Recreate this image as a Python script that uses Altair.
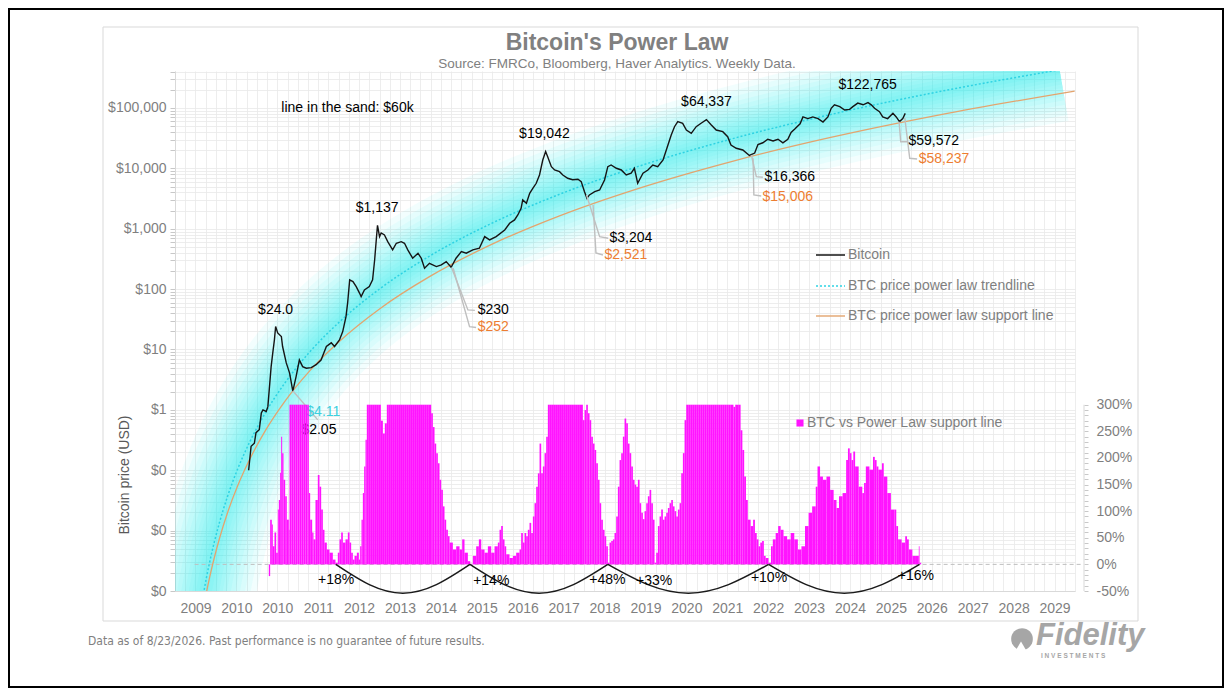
import altair as alt
import pandas as pd

FONT = "Liberation Sans"
NARROW = "Liberation Sans Narrow, DejaVu Sans Condensed, Arial Narrow, Liberation Sans"
GREY = "#7F7F7F"
CYAN = "#2ED3E3"
GLOW = "#00E3F0"
ORANGE_LINE = "#E3A46E"
ORANGE_TXT = "#ED7D31"
MAGENTA = "#FF14FF"

# ---------------- data ----------------
XLABELS = ["2009", "2010", "2010"] + [str(y) for y in range(2011, 2030)]

BTC = [
    (2010.70, 0.10), (2010.76, 0.25), (2010.84, 0.28), (2010.88, 0.42), (2010.96, 0.47),
    (2011.01, 0.89), (2011.05, 1.0), (2011.13, 0.94), (2011.17, 1.13), (2011.21, 2.43),
    (2011.25, 5.2), (2011.29, 8.8), (2011.33, 14.4), (2011.36, 24.0), (2011.41, 18.8),
    (2011.50, 16.4), (2011.53, 11.2), (2011.62, 6.0), (2011.70, 4.1), (2011.78, 2.05),
    (2011.86, 3.56), (2011.94, 6.7), (2012.02, 5.2), (2012.11, 4.9), (2012.23, 5.0),
    (2012.35, 5.6), (2012.47, 6.7), (2012.60, 11.2), (2012.72, 12.9), (2012.80, 11.2),
    (2012.92, 14.4), (2013.00, 19.8), (2013.08, 35), (2013.12, 59), (2013.17, 142),
    (2013.25, 133), (2013.33, 110), (2013.41, 86), (2013.45, 75), (2013.53, 97),
    (2013.65, 110), (2013.73, 142), (2013.78, 304), (2013.82, 653), (2013.85, 1137),
    (2013.90, 740), (2013.94, 851), (2014.02, 789), (2014.10, 611), (2014.22, 446),
    (2014.31, 575), (2014.43, 611), (2014.51, 575), (2014.59, 446), (2014.71, 325),
    (2014.84, 393), (2014.92, 325), (2015.00, 222), (2015.12, 268), (2015.29, 236),
    (2015.41, 252), (2015.53, 285), (2015.65, 230), (2015.77, 325), (2015.90, 418),
    (2016.02, 393), (2016.18, 446), (2016.34, 475), (2016.47, 740), (2016.59, 653),
    (2016.75, 740), (2016.96, 955), (2017.08, 1233), (2017.20, 1400), (2017.28, 1691),
    (2017.36, 2183), (2017.40, 3000), (2017.49, 2642), (2017.57, 3873), (2017.65, 4688),
    (2017.73, 5666), (2017.81, 7776), (2017.89, 13772), (2017.96, 19042), (2018.01, 15631),
    (2018.10, 10666), (2018.18, 9410), (2018.30, 8817), (2018.38, 7776), (2018.50, 6853),
    (2018.62, 6500), (2018.75, 6600), (2018.83, 6026), (2018.91, 4113), (2018.97, 3204),
    (2019.03, 3630), (2019.16, 4113), (2019.28, 4387), (2019.40, 6427), (2019.48, 10666),
    (2019.56, 11383), (2019.69, 10040), (2019.81, 9410), (2019.93, 7776), (2020.05, 8300),
    (2020.13, 10040), (2020.21, 5666), (2020.34, 8300), (2020.46, 9410), (2020.58, 11383),
    (2020.70, 10666), (2020.83, 13772), (2020.91, 20170), (2021.03, 35730), (2021.11, 49000),
    (2021.19, 59300), (2021.31, 55800), (2021.40, 43200), (2021.52, 38100), (2021.64, 49000),
    (2021.76, 55800), (2021.89, 64337), (2022.01, 52300), (2022.13, 43200), (2022.29, 40500),
    (2022.41, 33500), (2022.49, 24400), (2022.62, 21500), (2022.78, 20170), (2022.94, 16366),
    (2023.07, 17920), (2023.15, 24870), (2023.27, 26550), (2023.39, 30330), (2023.52, 28430),
    (2023.64, 30330), (2023.76, 26550), (2023.88, 30330), (2023.96, 39450), (2024.05, 44900),
    (2024.18, 54700), (2024.25, 71200), (2024.37, 66800), (2024.49, 71200), (2024.62, 66800),
    (2024.74, 58400), (2024.86, 71200), (2024.94, 98900), (2025.02, 113000), (2025.15, 105400),
    (2025.27, 92700), (2025.39, 95000), (2025.47, 105400), (2025.59, 120500), (2025.72, 113000),
    (2025.84, 122765), (2025.92, 113000), (2026.00, 98900), (2026.12, 86900), (2026.20, 71200),
    (2026.32, 66800), (2026.45, 81500), (2026.53, 71200), (2026.61, 59572), (2026.69, 66800),
    (2026.75, 81500),
]

TREND = [
    (2009.547, 0.00057), (2009.608, 0.001), (2009.742, 0.0029), (2009.865, 0.00662),
    (2009.987, 0.0136), (2010.182, 0.0365), (2010.427, 0.103), (2010.720, 0.288),
    (2011.087, 0.845), (2011.576, 2.73), (2012.187, 8.99), (2012.921, 28.7),
    (2013.899, 100.5), (2015.121, 352), (2016.588, 1183), (2018.300, 3724),
    (2020.256, 10940), (2022.456, 30060), (2024.901, 77270), (2027.591, 187100),
    (2030.525, 429500),
]

SUPPORT = [
    (2009.620, 0.00063), (2009.676, 0.001), (2009.742, 0.00163), (2009.865, 0.00366),
    (2009.987, 0.0074), (2010.182, 0.0196), (2010.427, 0.0541), (2010.720, 0.149),
    (2011.087, 0.429), (2011.576, 1.36), (2012.187, 4.39), (2012.921, 13.7),
    (2013.899, 47.0), (2015.121, 161), (2016.588, 530), (2018.300, 1637),
    (2020.256, 4721), (2022.456, 12740), (2024.901, 32210), (2027.591, 76910),
    (2030.892, 190900),
]

BARS_2011 = [
    (2011.193, -22), (2011.226, 84), (2011.267, 75), (2011.291, 34), (2011.332, 60),
    (2011.373, 22), (2011.413, 103), (2011.438, 121), (2011.470, 172), (2011.495, 240),
    (2011.519, 209), (2011.552, 159), (2011.593, 128), (2011.633, 84), (2011.682, 65),
    (2011.699, 300), (2011.747, 300), (2011.796, 300), (2011.845, 300), (2011.894, 300),
    (2011.943, 300), (2011.992, 300), (2012.041, 300), (2012.090, 300), (2012.139, 300),
    (2012.171, 134), (2012.204, 84), (2012.253, 60), (2012.285, 47), (2012.334, 121),
    (2012.391, 168), (2012.432, 146), (2012.473, 103), (2012.514, 65), (2012.554, 41),
    (2012.611, 28), (2012.677, 22), (2012.758, 9), (2012.823, 3),
]
BARS_2014 = [
    (2012.880, 22), (2012.921, 47), (2012.962, 60), (2013.003, 41), (2013.068, 47),
    (2013.125, 60), (2013.166, 41), (2013.206, 22), (2013.247, 9), (2013.288, 16),
    (2013.345, 22), (2013.394, 9), (2013.426, 34), (2013.459, 84), (2013.492, 134),
    (2013.524, 184), (2013.557, 234), (2013.589, 300), (2013.638, 300), (2013.687, 300),
    (2013.736, 300), (2013.785, 300), (2013.834, 300), (2013.883, 300), (2013.932, 270),
    (2013.981, 246), (2014.029, 265), (2014.078, 300), (2014.127, 300), (2014.176, 300),
    (2014.225, 300), (2014.274, 300), (2014.323, 300), (2014.372, 300), (2014.421, 300),
    (2014.470, 300), (2014.518, 300), (2014.567, 300), (2014.616, 300), (2014.665, 300),
    (2014.714, 300), (2014.763, 300), (2014.812, 300), (2014.861, 300), (2014.910, 300),
    (2014.959, 300), (2015.007, 300), (2015.056, 300), (2015.105, 300), (2015.162, 284),
    (2015.203, 258), (2015.244, 227), (2015.285, 209), (2015.325, 190), (2015.366, 159),
    (2015.407, 140), (2015.448, 109), (2015.488, 84), (2015.529, 65), (2015.570, 53),
    (2015.611, 41), (2015.692, 28), (2015.774, 34), (2015.855, 28), (2015.920, 47),
    (2015.977, 22), (2016.059, 6), (2016.116, 1),
]
BARS_2018 = [
    (2016.181, 16), (2016.263, 34), (2016.328, 47), (2016.385, 28), (2016.466, 22),
    (2016.548, 34), (2016.629, 22), (2016.711, 34), (2016.792, 41), (2016.833, 65),
    (2016.873, 72), (2016.914, 47), (2016.955, 34), (2016.996, 19), (2017.077, 12),
    (2017.159, 16), (2017.240, 22), (2017.322, 28), (2017.362, 59), (2017.403, 41),
    (2017.444, 59), (2017.485, 53), (2017.525, 65), (2017.566, 78), (2017.607, 59),
    (2017.648, 90), (2017.688, 115), (2017.729, 146), (2017.770, 171), (2017.811, 227),
    (2017.851, 171), (2017.892, 184), (2017.933, 209), (2017.974, 240), (2018.014, 300),
    (2018.063, 300), (2018.112, 300), (2018.161, 300), (2018.210, 300), (2018.259, 300),
    (2018.308, 300), (2018.357, 300), (2018.405, 300), (2018.454, 300), (2018.503, 300),
    (2018.552, 300), (2018.601, 300), (2018.650, 300), (2018.699, 300), (2018.748, 300),
    (2018.797, 300), (2018.870, 271), (2018.911, 290), (2018.952, 300), (2018.992, 284),
    (2019.033, 271), (2019.074, 240), (2019.115, 227), (2019.155, 215), (2019.196, 190),
    (2019.237, 159), (2019.278, 115), (2019.318, 84), (2019.359, 65), (2019.400, 53),
    (2019.441, 34), (2019.481, 3),
]
BARS_2021 = [
    (2019.522, 41), (2019.563, 44), (2019.604, 47), (2019.644, 59), (2019.685, 90),
    (2019.726, 146), (2019.767, 196), (2019.807, 209), (2019.848, 240), (2019.889, 274),
    (2019.930, 265), (2019.970, 227), (2020.011, 209), (2020.052, 184), (2020.093, 159),
    (2020.133, 150), (2020.174, 146), (2020.215, 159), (2020.256, 115), (2020.296, 97),
    (2020.337, 85), (2020.378, 100), (2020.419, 115), (2020.459, 128), (2020.500, 140),
    (2020.541, 115), (2020.582, 84), (2020.622, 3), (2020.663, 22), (2020.704, 72),
    (2020.745, 90), (2020.785, 103), (2020.826, 84), (2020.867, 90), (2020.908, 97),
    (2020.948, 106), (2020.989, 115), (2021.030, 121), (2021.071, 109), (2021.111, 100),
    (2021.152, 90), (2021.193, 103), (2021.234, 115), (2021.275, 171), (2021.315, 209),
    (2021.356, 271), (2021.397, 300), (2021.445, 300), (2021.494, 300), (2021.543, 300),
    (2021.592, 300), (2021.641, 300), (2021.690, 300), (2021.739, 300), (2021.788, 300),
    (2021.837, 300), (2021.886, 300), (2021.934, 300), (2021.983, 300), (2022.032, 300),
    (2022.081, 300), (2022.130, 300), (2022.179, 300), (2022.228, 300), (2022.277, 300),
    (2022.326, 300), (2022.375, 300), (2022.424, 300), (2022.472, 300), (2022.551, 296),
    (2022.595, 300), (2022.638, 300), (2022.682, 300), (2022.726, 252), (2022.769, 215),
    (2022.813, 165), (2022.857, 121), (2022.901, 84), (2022.971, 72), (2023.032, 84),
    (2023.076, 59), (2023.120, 47), (2023.163, 34), (2023.207, 41), (2023.251, 44),
    (2023.294, 16), (2023.338, 12), (2023.408, 3),
]
BARS_2025 = [
    (2023.469, 34), (2023.513, 47), (2023.583, 59), (2023.644, 72), (2023.705, 65),
    (2023.775, 53), (2023.863, 47), (2023.950, 59), (2024.038, 47), (2024.125, 28),
    (2024.213, 34), (2024.300, 72), (2024.388, 97), (2024.475, 109), (2024.563, 146),
    (2024.606, 184), (2024.668, 165), (2024.738, 159), (2024.825, 165), (2024.913, 140),
    (2025.000, 121), (2025.070, 106), (2025.131, 128), (2025.219, 134), (2025.306, 196),
    (2025.350, 218), (2025.394, 209), (2025.437, 196), (2025.481, 212), (2025.525, 184),
    (2025.612, 146), (2025.700, 134), (2025.744, 153), (2025.787, 184), (2025.875, 178),
    (2025.962, 202), (2026.006, 196), (2026.050, 184), (2026.094, 178), (2026.181, 190),
    (2026.225, 165), (2026.312, 134), (2026.400, 103), (2026.487, 103), (2026.531, 72),
    (2026.575, 47), (2026.662, 41), (2026.750, 53), (2026.793, 47), (2026.837, 28),
    (2026.925, 16), (2027.012, 16), (2027.082, 34), (2027.100, 3),
]

ARC_T = [
    [2012.83, 2013.65, 2014.47, 2015.29, 2016.11],
    [2016.11, 2016.95, 2017.80, 2018.64, 2019.48],
    [2019.48, 2020.46, 2021.45, 2022.43, 2023.41],
    [2023.41, 2024.33, 2025.26, 2026.18, 2027.10],
]
ARC_PCT = [0, -38, -54, -38, 0]

PCT_LABELS = ["+18%", "+14%", "+48%", "+33%", "+10%", "+16%"]
PCT_LAB_T = [2012.84, 2016.63, 2019.47, 2020.61, 2023.42, 2027.01]
PCT_LAB_Y = [-29, -32, -29, -32, -26, -22]

PEAK_LABELS = ["$24.0", "$1,137", "$19,042", "$64,337", "$122,765"]
PEAK_T = [2011.36, 2013.84, 2017.93, 2021.89, 2025.83]
PEAK_Y = [45.3, 2208, 37150, 125700, 240400]

LOW_LABELS = ["$2.05", "$230", "$3,204", "$16,366", "$59,572"]
LOW_T = [2011.99, 2016.30, 2019.52, 2023.31, 2026.83]
LOW_Y = [0.467, 44.4, 697, 7127, 28440]

SUP_LABELS = ["$252", "$2,521", "$15,006", "$58,237"]
SUP_T = [2016.30, 2019.40, 2023.26, 2027.08]
SUP_Y = [23.7, 368, 3396, 14320]

TREND_LABELS = ["$4.11"]
TREND_LAB_T = [2012.11]
TREND_LAB_Y = [0.937]

LEADERS = [
    [(2011.78, 2.07), (2012.39, 0.683)],
    [(2015.66, 228.6), (2016.06, 45.3), (2016.23, 44.4)],
    [(2015.70, 222), (2016.10, 23.9), (2016.26, 23.1)],
    [(2018.96, 3631), (2019.28, 740), (2019.49, 697)],
    [(2019.12, 2477), (2019.19, 397), (2019.36, 368)],
    [(2022.99, 16670), (2023.11, 7290), (2023.27, 7127)],
    [(2023.03, 14690), (2023.05, 3631), (2023.23, 3491)],
    [(2026.60, 59300), (2026.64, 27670), (2026.82, 27670)],
    [(2026.74, 68200), (2026.86, 14690), (2027.04, 14320)],
]

ZERO_LINE = [(2009.38, 2031.10, 0)]
RIGHT_AXIS_SPAN = [(-50, 300)]

# ---------------- frames ----------------
btc = pd.DataFrame(BTC, columns=["t", "p"])
trend = pd.DataFrame(TREND, columns=["t", "p"])
supp = pd.DataFrame(SUPPORT, columns=["t", "p"])
bars = pd.DataFrame(BARS_2011 + BARS_2014 + BARS_2018 + BARS_2021 + BARS_2025,
                    columns=["t", "pct"]).sort_values("t").reset_index(drop=True)
bars["t2"] = bars["t"].shift(-1)
bars.loc[bars.index[-1], "t2"] = bars["t"].iloc[-1] + 0.04
bars["zero"] = 0.0

arcs = pd.DataFrame([{"id": i, "k": j, "t": tt, "pct": ARC_PCT[j]}
                     for i, ts in enumerate(ARC_T) for j, tt in enumerate(ts)])
pct_lab = pd.DataFrame({"t": PCT_LAB_T, "pct": PCT_LAB_Y, "label": PCT_LABELS})
peak_lab = pd.DataFrame({"t": PEAK_T, "p": PEAK_Y, "label": PEAK_LABELS})
low_lab = pd.DataFrame({"t": LOW_T, "p": LOW_Y, "label": LOW_LABELS})
sup_lab = pd.DataFrame({"t": SUP_T, "p": SUP_Y, "label": SUP_LABELS})
tr_lab = pd.DataFrame({"t": TREND_LAB_T, "p": TREND_LAB_Y, "label": TREND_LABELS})
lead = pd.DataFrame([{"id": i, "k": j, "t": tt, "p": pp}
                     for i, seg in enumerate(LEADERS) for j, (tt, pp) in enumerate(seg)])
zero_df = pd.DataFrame(ZERO_LINE, columns=["t", "t2", "pct"])
raxis_df = pd.DataFrame(RIGHT_AXIS_SPAN, columns=["lo", "hi"])
sand_df = pd.DataFrame({"t": [2011.50], "p": [100000], "label": ["line in the sand: $60k"]})
ONE = pd.DataFrame({"a": [0]})

# ---------------- scales & axes ----------------
X_SCALE = alt.Scale(domain=[2008.9, 2030.9], nice=False, zero=False)
Y_PRICE = alt.Scale(type="log", domain=[0.001, 410000], nice=False)
Y_PCT = alt.Scale(domain=[-50, 927], nice=False, zero=False)

x_vals = [round(2009.4 + q * 0.25, 3) for q in range(-2, 87)]
xl_js = "[" + ",".join("'" + s + "'" for s in XLABELS) + "]"
X_AXIS = alt.Axis(
    values=x_vals,
    labelExpr="(round((datum.value-2009.4)*4) % 4 == 0) ? " + xl_js + "[round(datum.value-2009.4)] : ''",
    title=None, grid=True, gridColor="#E8E8E8", gridWidth=0.8, ticks=False, tickSize=0,
    domain=True, domainColor="#D9D9D9", labelColor=GREY, labelFont=FONT, labelFontSize=14,
    labelPadding=10, labelOverlap=False, labelFlush=False, labelBound=False,
)
y_vals = sorted(k * 10.0 ** d for d in range(-3, 6) for k in range(1, 10) if k * 10.0 ** d <= 410000)
Y_AXIS = alt.Axis(
    values=y_vals,
    labelExpr="abs(log(datum.value)/LN10 - round(log(datum.value)/LN10)) < 0.01 ? format(datum.value, '$,.0f') : ''",
    title=None, grid=True, gridColor="#E8E8E8", gridWidth=0.8, tickColor="#C8C8C8", tickSize=5,
    domainColor="#D9D9D9", labelColor=GREY, labelFont=FONT, labelFontSize=14, labelPadding=4,
    labelOverlap=False, labelFlush=False,
)
Y_AXIS_R = alt.Axis(
    orient="right", values=list(range(-50, 301, 10)),
    labelExpr="datum.value % 50 == 0 ? datum.value + '%' : ''",
    title=None, grid=False, domain=False, tickColor="#C8C8C8", tickSize=4, offset=9,
    labelPadding=8, labelColor=GREY, labelFont=FONT, labelFontSize=14, labelOverlap=False,
    labelFlush=False,
)


def X(field="t"):
    return alt.X(field + ":Q", scale=X_SCALE, axis=X_AXIS)


def YP(field="p", axis=None):
    return alt.Y(field + ":Q", scale=Y_PRICE, axis=axis)


def YC(field="pct", axis=None):
    return alt.Y(field + ":Q", scale=Y_PCT, axis=axis)


layers = []

# soft glow around the trend line
widths = [104, 92, 81, 71, 62, 53, 45, 37, 30, 23, 16, 9]
for i, w in enumerate(widths):
    layers.append(
        alt.Chart(trend).mark_line(color=GLOW, strokeWidth=w, strokeOpacity=0.05, clip=True,
                                   interpolate="monotone", strokeCap="butt", strokeJoin="round")
        .encode(x=X(), y=YP(axis=Y_AXIS if i == 0 else None), order="t:Q")
    )

# zero line
layers.append(
    alt.Chart(zero_df).mark_rule(color="#BFBFBF", strokeWidth=1, strokeDash=[4, 3])
    .encode(x=X(), x2="t2:Q", y=YC())
)
# support and trend lines
layers.append(
    alt.Chart(supp).mark_line(color=ORANGE_LINE, strokeWidth=1.3, clip=True, interpolate="monotone")
    .encode(x=X(), y=YP(), order="t:Q")
)
layers.append(
    alt.Chart(trend).mark_line(color=CYAN, strokeWidth=1.5, strokeDash=[2, 2], clip=True,
                               interpolate="monotone")
    .encode(x=X(), y=YP(), order="t:Q")
)
# bitcoin price
layers.append(
    alt.Chart(btc).mark_line(color="#151515", strokeWidth=1.4)
    .encode(x=X(), y=YP(), order="t:Q")
)
# leader lines
layers.append(
    alt.Chart(lead).mark_line(color="#BFBFBF", strokeWidth=1.4)
    .encode(x=X(), y=YP(), detail="id:N", order="k:Q")
)
# annotations
layers.append(
    alt.Chart(peak_lab).mark_text(font=FONT, fontSize=14, color="#000000", align="center", baseline="middle")
    .encode(x=X(), y=YP(), text="label:N")
)
layers.append(
    alt.Chart(low_lab).mark_text(font=FONT, fontSize=14, color="#000000", align="left", baseline="middle")
    .encode(x=X(), y=YP(), text="label:N")
)
layers.append(
    alt.Chart(sup_lab).mark_text(font=FONT, fontSize=14, color=ORANGE_TXT, align="left", baseline="middle")
    .encode(x=X(), y=YP(), text="label:N")
)
layers.append(
    alt.Chart(tr_lab).mark_text(font=FONT, fontSize=14, color="#3CD0DE", align="left", baseline="middle")
    .encode(x=X(), y=YP(), text="label:N")
)
layers.append(
    alt.Chart(sand_df).mark_text(font=FONT, fontSize=14, color="#000000", align="left", baseline="middle")
    .encode(x=X(), y=YP(), text="label:N")
)
# bars vs support line
layers.append(
    alt.Chart(bars).mark_bar(color=MAGENTA)
    .encode(x=X(), x2="t2:Q", y=YC(axis=Y_AXIS_R), y2="zero:Q")
)
# arcs between cycle lows
layers.append(
    alt.Chart(arcs).mark_line(color="#1A1A1A", strokeWidth=1.5, interpolate="natural")
    .encode(x=X(), y=YC(), detail="id:N", order="k:Q")
)
layers.append(
    alt.Chart(pct_lab).mark_text(font=FONT, fontSize=14, color="#000000", align="center", baseline="middle")
    .encode(x=X(), y=YC(), text="label:N")
)
# right axis line (only over labelled range)
layers.append(
    alt.Chart(raxis_df).mark_rule(color="#D9D9D9", strokeWidth=1)
    .encode(x=alt.value(909), y=YC("lo"), y2="hi:Q")
)


def ptext(text, x, y, size=14, color=GREY, align="left", weight="normal", font=FONT,
          angle=0, style="normal"):
    return alt.Chart(ONE).mark_text(
        text=text, align=align, baseline="middle", fontSize=size, color=color,
        fontWeight=weight, font=font, angle=angle, fontStyle=style
    ).encode(x=alt.value(x), y=alt.value(y))


def prule(x1, x2, y, color, width=1.5, dash=None):
    kw = dict(color=color, strokeWidth=width)
    if dash:
        kw["strokeDash"] = dash
    return alt.Chart(ONE).mark_rule(**kw).encode(x=alt.value(x1), x2=alt.value(x2), y=alt.value(y))


deco = [
    # panel and outer frame
    alt.Chart(ONE).mark_rect(fillOpacity=0, stroke="#D9D9D9", strokeWidth=1)
    .encode(x=alt.value(-72), x2=alt.value(963), y=alt.value(-44), y2=alt.value(550)),
    alt.Chart(ONE).mark_rect(fillOpacity=0, stroke="#000000", strokeWidth=2)
    .encode(x=alt.value(-166), x2=alt.value(1048), y=alt.value(-62), y2=alt.value(616)),
    # titles
    ptext("Bitcoin's Power Law", 442, -28, size=23, color="#808080", align="center", weight="bold"),
    ptext("Source: FMRCo, Bloomberg, Haver Analytics. Weekly Data.", 442, -7, size=13.5,
          color="#808080", align="center"),
    ptext("Bitcoin price (USD)", -50, 404, size=14, color="#595959", align="center", angle=270),
    # legend
    prule(641, 670, 184, "#151515", 1.5),
    ptext("Bitcoin", 673, 184),
    prule(641, 670, 215, CYAN, 1.5, [2, 2]),
    ptext("BTC price power law trendline", 673, 215),
    prule(641, 670, 245, ORANGE_LINE, 1.4),
    ptext("BTC price power law support line", 673, 245),
    alt.Chart(ONE).mark_square(color=MAGENTA, size=50, opacity=1)
    .encode(x=alt.value(625), y=alt.value(352)),
    ptext("BTC vs Power Law support line", 632, 352),
    # footer
    ptext("Data as of 8/23/2026. Past performance is no guarantee of future results.", -87, 570,
          size=12, color="#7F7F7F", font=NARROW),
    # logo
    alt.Chart(ONE).mark_circle(color="#A6A6A6", size=470, opacity=1)
    .encode(x=alt.value(847), y=alt.value(568)),
    alt.Chart(ONE).mark_point(shape="triangle-up", filled=True, color="#FFFFFF", size=110, opacity=1)
    .encode(x=alt.value(846), y=alt.value(575)),
    ptext("Fidelity", 861, 565, size=31, color="#A6A6A6", weight="bold", style="italic",
          font="Liberation Sans"),
    ptext("I  N  V  E  S  T  M  E  N  T  S", 866, 585, size=6.5, color="#A6A6A6", weight="bold"),
]

chart = (
    alt.layer(*layers, *deco)
    .resolve_scale(y="independent")
    .properties(
        width=900, height=520,
        padding={"left": 167, "top": 63, "right": 149, "bottom": 97},
        autosize=alt.AutoSizeParams(type="none"),
        background="white",
    )
    .configure_view(stroke=None)
)

chart.save("out.html", embed_options={"renderer": "svg", "actions": False})
